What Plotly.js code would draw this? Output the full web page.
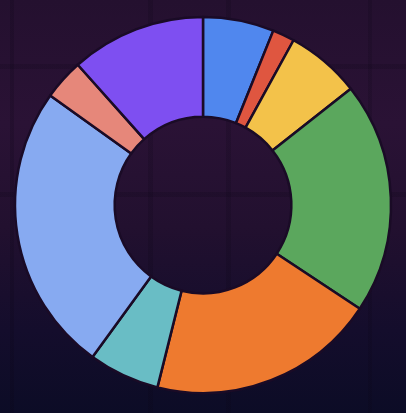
<!DOCTYPE html>
<html>
<head>
<meta charset="utf-8">
<script src="https://cdn.plot.ly/plotly-3.0.1.min.js"></script>
<style>
  html, body { margin: 0; padding: 0; width: 406px; height: 413px; overflow: hidden; }
  body {
    background:
      linear-gradient(to right, transparent 0px, transparent 10px, rgba(10,4,20,0.2) 10px, rgba(10,4,20,0.2) 14px, transparent 14px),
      linear-gradient(to right, transparent 148px, rgba(10,4,20,0.18) 148px, rgba(10,4,20,0.18) 153px, transparent 153px),
      linear-gradient(to right, transparent 226px, rgba(10,4,20,0.18) 226px, rgba(10,4,20,0.18) 231px, transparent 231px),
      linear-gradient(to right, transparent 368px, rgba(10,4,20,0.18) 368px, rgba(10,4,20,0.18) 372px, transparent 372px),
      linear-gradient(to bottom, transparent 64px, rgba(10,4,20,0.18) 64px, rgba(10,4,20,0.18) 69px, transparent 69px),
      linear-gradient(to bottom, transparent 192px, rgba(10,4,20,0.18) 192px, rgba(10,4,20,0.18) 197px, transparent 197px),
      linear-gradient(to bottom, #24102f 0%, #2a1235 30%, #22102f 55%, #140d2c 80%, #0c0c26 100%);
  }
  #chart { width: 406px; height: 413px; }
</style>
</head>
<body>
<div id="chart"></div>
<script>
const categories = ["Blue", "Red", "Yellow", "Green", "Orange", "Teal", "Light Blue", "Salmon", "Purple"];
const values = [6.1, 1.9, 6.4, 19.9, 19.6, 6.1, 24.9, 3.5, 11.6];
const colors = ["#5087ee", "#df5640", "#f3c24a", "#5ba75d", "#ee7a2f", "#69bdc5", "#87aaf1", "#e6877a", "#7e4ff1"];

const data = [{
  type: "pie",
  labels: categories,
  values: values,
  hole: 0.47,
  sort: false,
  direction: "clockwise",
  rotation: 0,
  textinfo: "none",
  hoverinfo: "label+percent",
  marker: { colors: colors, line: { color: "#1a0b26", width: 2.5 } }
}];

const layout = {
  width: 406,
  height: 413,
  margin: { l: 15, r: 15, t: 17, b: 20 },
  paper_bgcolor: "rgba(0,0,0,0)",
  plot_bgcolor: "rgba(0,0,0,0)",
  showlegend: false
};

Plotly.newPlot("chart", data, layout, { displayModeBar: false, staticPlot: true });
</script>
</body>
</html>
